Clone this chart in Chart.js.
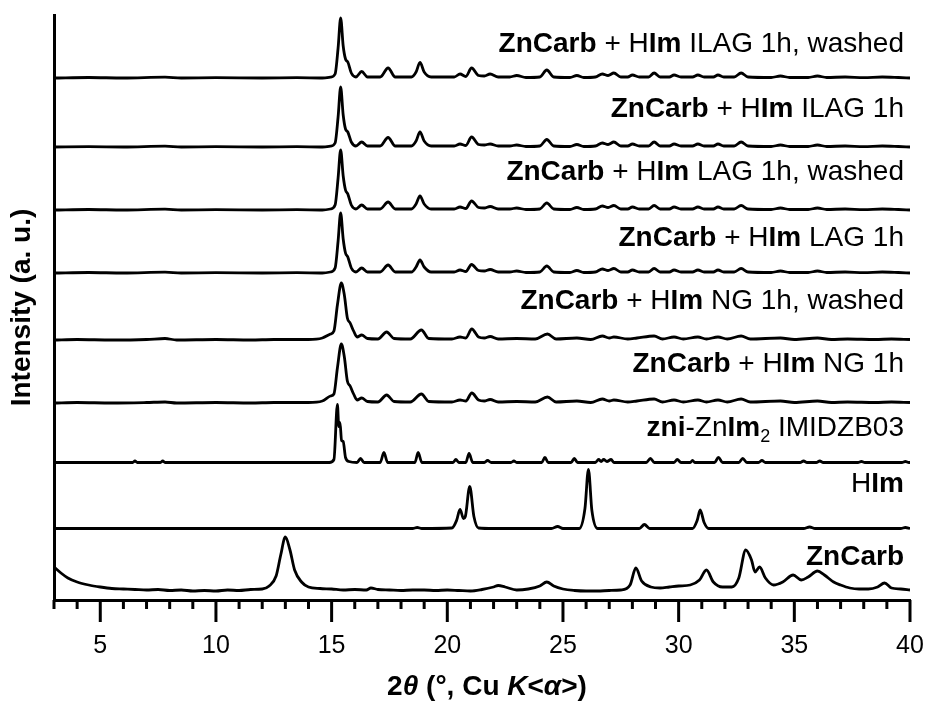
<!DOCTYPE html>
<html><head><meta charset="utf-8">
<script src="https://cdn.jsdelivr.net/npm/chart.js@4.4.1/dist/chart.umd.min.js"></script>
<style>html,body{margin:0;padding:0;background:#fff;}#wrap{width:927px;height:702px;}</style>
</head><body><div id="wrap"><canvas id="c" width="927" height="702"></canvas></div>
<script>
// ---------- DATA: [2theta, intensity above the trace's own baseline] ----------
const ILAG_WASHED = [[3,0],[4.5,0.5],[6,0],[7.8,0.8],[8.5,0],[10,0.3],[12,0],[13.5,0.3],[14.6,0],[14.95,0.8],[15.15,4],[15.28,30],[15.39,60],[15.5,32],[15.6,19],[15.7,16],[15.85,5],[16.05,1],[16.3,6.5],[16.55,1],[17.1,1],[17.44,10],[17.75,1],[18.45,1],[18.65,6],[18.82,15.5],[19.0,6],[19.3,1],[20.3,1],[20.55,4],[20.8,1.5],[21.05,10],[21.35,2.5],[21.6,2],[21.85,4],[22.2,1],[22.7,1],[23.0,2.5],[23.4,0.5],[24.0,1],[24.3,8],[24.6,1],[25.3,0.5],[25.6,2.5],[25.9,0.5],[26.4,1],[26.7,4],[26.95,2.5],[27.2,5],[27.5,1],[27.8,1],[28.0,3],[28.3,1],[28.7,1],[28.94,5],[29.2,1],[29.6,1],[29.8,3],[30.1,1],[30.6,1],[30.83,3],[31.1,1],[31.5,1],[31.7,3],[31.95,1],[32.4,1],[32.7,5],[33.0,1],[34.0,0.5],[34.4,2],[34.8,0.5],[35.6,0.5],[36.0,2],[36.4,0.5],[37.2,1],[38.0,0.3],[38.8,1],[39.5,0.5],[40,0]];
const ILAG_1H = [[3,0],[4.5,0.3],[6,0],[7.8,0.8],[8.5,0],[10,0.3],[12,0],[13.5,0.3],[14.6,0],[14.95,0.8],[15.15,4],[15.28,30],[15.39,60],[15.5,32],[15.6,18],[15.7,15],[15.85,5],[16.05,1],[16.3,5],[16.55,1],[17.1,1],[17.44,9.5],[17.75,1],[18.45,1],[18.65,6],[18.82,15],[19.0,6],[19.3,1],[20.3,1],[20.55,3],[20.8,1.5],[21.05,10],[21.35,2.5],[21.6,2],[21.85,3],[22.2,1],[22.7,1],[23.0,2],[23.4,0.5],[24.0,1],[24.3,7.5],[24.6,1],[25.3,0.5],[25.6,2.5],[25.9,0.5],[26.4,1],[26.7,4],[26.95,2.5],[27.2,5],[27.5,1],[27.8,1],[28.0,3],[28.3,1],[28.7,1],[28.94,5],[29.2,1],[29.6,1],[29.8,3],[30.1,1],[30.6,1],[30.83,3],[31.1,1],[31.5,1],[31.7,3],[31.95,1],[32.4,1],[32.7,5],[33.0,1],[34.0,0.5],[34.4,2],[34.8,0.5],[35.6,0.5],[36.0,2],[36.4,0.5],[37.2,1],[38.0,0.3],[38.8,1],[39.5,0.5],[40,0]];
const LAG_WASHED = [[3,0],[4.5,0.5],[6,0],[7.8,0.8],[8.5,0],[10,0.3],[12,0],[13.5,0.3],[14.6,0],[14.95,1],[15.15,5],[15.28,32],[15.39,60],[15.5,34],[15.6,20],[15.7,16],[15.85,5],[16.05,1],[16.3,5],[16.55,1],[17.1,1],[17.44,8],[17.75,1],[18.45,1],[18.65,6],[18.82,14],[19.0,6],[19.3,1],[20.3,1],[20.55,3],[20.8,1.5],[21.05,9],[21.35,2.5],[21.6,2],[21.85,3.5],[22.2,1],[22.7,1],[23.0,2],[23.4,0.5],[24.0,1],[24.3,7],[24.6,1],[25.3,0.5],[25.6,2.5],[25.9,0.5],[26.4,1],[26.7,4],[26.95,2.5],[27.2,4.5],[27.5,1],[27.8,1],[28.0,3],[28.3,1],[28.7,1],[28.94,4.5],[29.2,1],[29.6,1],[29.8,3],[30.1,1],[30.6,1],[30.83,3],[31.1,1],[31.5,1],[31.7,3],[31.95,1],[32.4,1],[32.7,4.5],[33.0,1],[34.0,0.5],[34.4,2],[34.8,0.5],[35.6,0.5],[36.0,2],[36.4,0.5],[37.2,1],[38.0,0.3],[38.8,1],[39.5,0.5],[40,0]];
const LAG_1H = [[3,0],[4.5,0.5],[6,0],[7.8,0.8],[8.5,0],[10,0.3],[12,0],[13.5,0.3],[14.6,0],[14.95,1],[15.15,5],[15.28,32],[15.39,60],[15.5,34],[15.6,20],[15.7,16],[15.85,5],[16.05,1],[16.3,5],[16.55,1],[17.1,1],[17.44,8],[17.75,1],[18.45,1],[18.65,6],[18.82,13],[19.0,6],[19.3,1],[20.3,1],[20.55,3],[20.8,1.5],[21.05,8.5],[21.35,2.5],[21.6,2],[21.85,3.5],[22.2,1],[22.7,1],[23.0,2],[23.4,0.5],[24.0,1],[24.3,7],[24.6,1],[25.3,0.5],[25.6,2.5],[25.9,0.5],[26.4,1],[26.7,4],[26.95,2.5],[27.2,4.5],[27.5,1],[27.8,1],[28.0,3],[28.3,1],[28.7,1],[28.94,4.5],[29.2,1],[29.6,1],[29.8,3],[30.1,1],[30.6,1],[30.83,3],[31.1,1],[31.5,1],[31.7,3],[31.95,1],[32.4,1],[32.7,4.5],[33.0,1],[34.0,0.5],[34.4,2],[34.8,0.5],[35.6,0.5],[36.0,2],[36.4,0.5],[37.2,1],[38.0,0.3],[38.8,1],[39.5,0.5],[40,0]];
const NG_WASHED = [[3,0],[4,0.5],[5.5,0],[7,0.5],[7.8,1.5],[8.3,0],[10,0.5],[11.5,0],[12.5,0.5],[14,0.5],[14.6,2],[14.95,6],[15.1,9],[15.25,35],[15.42,57],[15.55,45],[15.68,22],[15.8,17],[15.95,9],[16.1,3],[16.3,5],[16.55,1.5],[17.0,1],[17.38,8],[17.7,1.5],[18.4,1],[18.88,10],[19.2,1.5],[20.2,1],[20.55,3],[20.8,2],[21.06,11],[21.35,3],[21.6,2],[21.85,3.5],[22.2,1],[23.0,1.5],[23.8,1],[24.33,6],[24.7,1],[25.6,2],[26.2,0.5],[26.7,4],[27.0,2],[27.2,3],[27.8,1],[28.2,2],[28.94,4],[29.3,1],[29.8,3],[30.2,1],[30.83,3],[31.2,1],[31.7,3],[32.1,1],[32.7,4],[33.1,1],[34.4,2],[35,0.5],[36,2],[36.6,0.5],[37.3,1],[38.5,0.5],[39.2,1],[40,0.5]];
const NG_1H = [[3,0],[4,0.5],[5.5,0],[7,0.5],[7.8,1],[8.3,0],[10,0.5],[11.5,0],[12.5,0.5],[14,0.5],[14.6,2],[14.95,7],[15.1,9],[15.25,35],[15.42,59],[15.55,46],[15.68,22],[15.8,17],[15.95,9],[16.1,3],[16.3,5],[16.55,1.5],[17.0,1],[17.38,8],[17.7,1.5],[18.4,1],[18.88,9],[19.2,1.5],[20.2,1],[20.55,3],[20.8,2],[21.06,10],[21.35,3],[21.6,2],[21.85,3.5],[22.2,1],[23.0,1.5],[23.8,1],[24.33,6],[24.7,1],[25.6,2],[26.2,0.5],[26.7,4],[27.0,2],[27.2,3],[27.8,1],[28.2,2],[28.94,4],[29.3,1],[29.8,3],[30.2,1],[30.83,3],[31.2,1],[31.7,3],[32.1,1],[32.7,4],[33.1,1],[34.4,2],[35,0.5],[36,2],[36.6,0.5],[37.3,1],[38.5,0.5],[39.2,1],[40,0.5]];
const ZNI_IMIDZB03 = [[3,0],[6.4,0],[6.5,1.5],[6.6,0],[7.6,0],[7.7,1.5],[7.8,0],[10,0],[13,0],[14.9,0],[15.1,3],[15.25,58],[15.31,36],[15.36,40],[15.43,22],[15.5,21],[15.6,5],[15.75,1],[16.1,0],[16.25,4],[16.4,0],[17.1,0],[17.26,10],[17.42,0],[18.6,0],[18.74,10],[18.9,0],[20.25,0],[20.37,3],[20.5,0],[20.8,0],[20.94,9],[21.1,0],[21.6,0],[21.74,2],[21.9,0],[22.75,0],[22.88,1.5],[23.0,0],[24.08,0],[24.22,5],[24.36,0],[25.35,0],[25.49,4],[25.63,0],[26.4,0],[26.54,3],[26.65,1],[26.76,3],[26.9,1],[27.08,3],[27.2,0],[28.6,0],[28.78,4],[28.95,0],[29.8,0],[29.94,3],[30.1,0],[30.5,0],[30.6,2],[30.7,0],[31.55,0],[31.72,5],[31.9,0],[32.6,0],[32.77,4],[32.95,0],[33.45,0],[33.6,2],[33.75,0],[35.25,0],[35.4,1.5],[35.55,0],[35.95,0],[36.1,1.5],[36.25,0],[37.75,0],[37.9,1],[38.05,0],[39.65,0],[39.8,1],[39.95,0],[40,0]];
const HIM = [[3,0],[10,0],[15,0],[18.5,0],[18.7,1],[18.9,0],[20.2,0.5],[20.4,8],[20.55,19],[20.7,10],[20.78,12],[20.97,42],[21.15,12],[21.35,0.5],[22,0],[24.5,0],[24.77,2],[25.0,0],[25.7,0],[25.95,20],[26.1,59],[26.25,18],[26.5,0],[28.3,0],[28.52,4],[28.75,0],[30.6,0],[30.8,8],[30.93,18.5],[31.1,6],[31.3,0],[35.4,0],[35.66,1.5],[35.9,0],[39.6,0],[39.8,1],[40,0]];
const ZNCARB = [[3,23],[3.3,17],[3.6,12],[4,8],[4.5,5],[5,3],[5.5,1.5],[6,1],[6.5,0.5],[7,0],[7.5,0.5],[8,-0.5],[8.5,0],[9,-1],[9.5,-0.5],[10,-1],[10.5,0],[11,-0.5],[11.5,0.5],[12,1],[12.3,4],[12.6,14],[12.8,35],[13.0,53],[13.2,40],[13.4,20],[13.7,8],[14,3],[14.5,1.5],[15,1],[15.5,0],[16,0.5],[16.5,0],[16.7,2],[17,0.5],[17.5,0],[18,-0.5],[18.5,0],[19,0],[19.5,-0.5],[20,0],[20.5,-0.5],[21,-1],[21.5,0.5],[22,3],[22.2,4.5],[22.5,3],[23,0],[23.5,1],[24,4],[24.3,8],[24.6,4],[25,1],[25.5,-0.5],[26,-1],[26.5,-1],[27,-0.5],[27.5,0],[27.9,5],[28.15,22],[28.4,9],[28.8,3],[29.2,2],[29.6,3],[30,4],[30.5,5],[30.9,10],[31.2,20],[31.5,8],[31.9,3],[32.3,3],[32.6,12],[32.9,40],[33.15,30],[33.3,18],[33.5,23],[33.75,12],[34.1,5],[34.5,8],[34.95,15],[35.3,10],[35.6,13],[36.0,19],[36.3,15],[36.7,8],[37.0,5],[37.4,2],[37.8,1],[38.2,1],[38.6,3],[38.9,7],[39.2,2],[39.6,1],[40,0]];

// vertical offsets of each pattern (stacking), bottom to top
const SERIES = [ZNCARB, HIM, ZNI_IMIDZB03, NG_1H, NG_WASHED, LAG_1H, LAG_WASHED, ILAG_1H, ILAG_WASHED];
const OFFSETS = [10, 71.5, 137.5, 197, 260, 327, 390, 453, 522];
// label texts: runs of [text, style]
const LABELS = [
  [["ZnCarb","b"]],
  [["H","n"],["Im","b"]],
  [["zni","b"],["-Zn","n"],["Im","b"],["2","sub"],[" IMIDZB03","n"]],
  [["ZnCarb","b"],[" + H","n"],["Im","b"],[" NG 1h","n"]],
  [["ZnCarb","b"],[" + H","n"],["Im","b"],[" NG 1h, washed","n"]],
  [["ZnCarb","b"],[" + H","n"],["Im","b"],[" LAG 1h","n"]],
  [["ZnCarb","b"],[" + H","n"],["Im","b"],[" LAG 1h, washed","n"]],
  [["ZnCarb","b"],[" + H","n"],["Im","b"],[" ILAG 1h","n"]],
  [["ZnCarb","b"],[" + H","n"],["Im","b"],[" ILAG 1h, washed","n"]]
];
const X_MIN = 3, X_MAX = 40;
const X_MAJOR_TICKS = [5, 10, 15, 20, 25, 30, 35, 40];

// ---------- presentation ----------
const FAMILY = '"Liberation Sans", Arial, Helvetica, sans-serif';
const LABEL_SIZE = 28;
const LABEL_LIFT = [25, 37, 27, 31, 31, 27, 30, 30, 26];

function fontFor(style, size) {
  if (style === 'b') return 'bold ' + size + 'px ' + FAMILY;
  if (style === 'bi') return 'italic bold ' + size + 'px ' + FAMILY;
  if (style === 'sub') return 'normal ' + Math.round(size * 0.66) + 'px ' + FAMILY;
  return 'normal ' + size + 'px ' + FAMILY;
}
function runsWidth(ctx, runs, size) {
  let w = 0;
  for (const [t, s] of runs) { ctx.font = fontFor(s, size); w += ctx.measureText(t).width; }
  return w;
}
function drawRuns(ctx, runs, x, y, size) {
  ctx.textBaseline = 'alphabetic'; ctx.textAlign = 'left';
  for (const [t, s] of runs) {
    ctx.font = fontFor(s, size);
    const dy = s === 'sub' ? size * 0.22 : 0;
    ctx.fillText(t, x, y + dy);
    x += ctx.measureText(t).width;
  }
}

const decor = {
  id: 'decor',
  afterDraw(chart) {
    const ctx = chart.ctx, xs = chart.scales.x, ys = chart.scales.y, ca = chart.chartArea;
    ctx.save();
    ctx.fillStyle = '#000'; ctx.strokeStyle = '#000';
    // tick marks
    ctx.lineWidth = 3;
    for (let v = Math.ceil(X_MIN); v <= X_MAX; v++) {
      const px = xs.getPixelForValue(v);
      const len = X_MAJOR_TICKS.includes(v) ? 22 : 9;
      ctx.beginPath(); ctx.moveTo(px, ca.bottom); ctx.lineTo(px, ca.bottom + len); ctx.stroke();
    }
    // trace labels
    const right = ca.right - 6;
    LABELS.forEach((runs, i) => {
      const w = runsWidth(ctx, runs, LABEL_SIZE);
      const y = ys.getPixelForValue(OFFSETS[i]) - LABEL_LIFT[i];
      drawRuns(ctx, runs, right - w, y, LABEL_SIZE);
    });
    // x title
    const xt = [["2","b"],["θ","bi"],[" (°, Cu ","b"],["K","bi"],["<","b"],["α","bi"],[">)","b"]];
    const ts = 28;
    const tw = runsWidth(ctx, xt, ts);
    drawRuns(ctx, xt, 487 - tw / 2, 695, ts);
    // y title
    ctx.translate(22, (ca.top + ca.bottom) / 2);
    ctx.rotate(-Math.PI / 2);
    ctx.font = fontFor('b', 28);
    ctx.textAlign = 'center'; ctx.textBaseline = 'middle';
    ctx.fillText('Intensity (a. u.)', 0, 0);
    ctx.restore();
  }
};

const datasets = SERIES.map((s, i) => ({
  data: s.map(p => ({ x: p[0], y: p[1] + OFFSETS[i] })),
  borderColor: '#000', borderWidth: 2.8, pointRadius: 0,
  cubicInterpolationMode: 'monotone', fill: false
}));

new Chart(document.getElementById('c'), {
  type: 'line',
  data: { datasets },
  options: {
    responsive: false, animation: false, devicePixelRatio: 1,
    layout: { padding: { top: 15, right: 17, left: 0, bottom: 0 } },
    plugins: { legend: { display: false }, tooltip: { enabled: false } },
    scales: {
      x: {
        type: 'linear', min: X_MIN, max: X_MAX,
        afterFit(s) { s.height = 102; s.paddingLeft = 0; s.paddingRight = 0; },
        grid: { display: false, drawTicks: false },
        border: { display: true, color: '#000', width: 3 },
        ticks: {
          stepSize: 1, autoSkip: false, maxRotation: 0, padding: 31, color: '#000',
          font: { family: FAMILY, size: 25 },
          callback: v => (X_MAJOR_TICKS.includes(v) ? String(v) : '')
        }
      },
      y: {
        type: 'linear', min: 0, max: 585,
        afterFit(s) { s.width = 54; s.paddingTop = 0; s.paddingBottom = 0; },
        grid: { display: false, drawTicks: false },
        border: { display: true, color: '#000', width: 3 },
        ticks: { display: false }
      }
    }
  },
  plugins: [decor]
});
</script></body></html>
